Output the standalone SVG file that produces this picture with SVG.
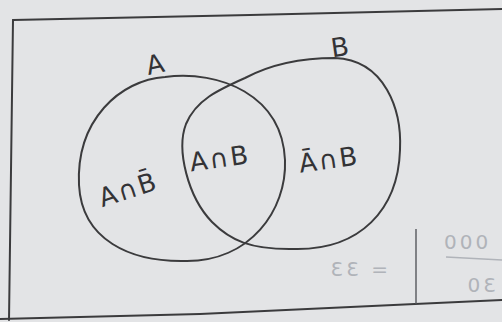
<svg xmlns="http://www.w3.org/2000/svg" width="502" height="322" viewBox="0 0 502 322">
<style>
.ink{fill:none;stroke:#3b3b3d;stroke-width:2;stroke-linecap:round;stroke-linejoin:round}
.lbl{font-family:"DejaVu Sans","Liberation Sans",sans-serif;fill:#333336;font-size:26px;letter-spacing:2px}
.ghost{font-family:"DejaVu Sans",sans-serif;fill:#b0b3b9;font-size:20px;letter-spacing:3px}
</style>
<rect width="502" height="322" fill="#e3e4e6"/>
<g id="frame">
<path class="ink" d="M13,20 L250,15 L502,9" />
<path class="ink" d="M13,20 L11,170 L9,320"/>
<path class="ink" d="M0,319 L200,314 L415,304 L502,300" stroke-width="1.6"/>
</g>
<g id="setA">
<path class="ink" d="M165,77 C220,70 282,95 285,160 C287,210 250,262 185,261 C130,262 82,240 79,185 C76,120 120,80 165,77 Z"/>
<text class="lbl" x="146" y="73" transform="rotate(-12 157 63)">A</text>
</g>
<g id="setB">
<path class="ink" d="M245,78 C275,62 305,58 335,58 C385,60 402,110 400,150 C398,210 360,250 295,249 C250,250 230,240 212,222 C188,197 176,150 186,124 C196,100 218,90 245,78 Z"/>
<text class="lbl" x="331" y="56" transform="rotate(-8 340 47)">B</text>
</g>
<g id="regions">
<text class="lbl" x="95" y="198" transform="rotate(-18 128 180)">A∩B̄</text>
<text class="lbl" x="189" y="167" transform="rotate(-8 222 155)">A∩B</text>
<text class="lbl" x="298" y="168" transform="rotate(-8 333 155)">Ā∩B</text>
</g>
<g id="bleed">
<text class="ghost" transform="translate(388,276) scale(-1,1)">= 33</text>
<path d="M416,229 L416,304" stroke="#55575c" stroke-width="1.4"/>
<text class="ghost" x="444" y="249">000</text>
<path d="M446,257 L502,260" stroke="#b0b3b9" stroke-width="1.4"/>
<text class="ghost" transform="translate(496,292) scale(-1,1)">30</text>
</g>
</svg>
